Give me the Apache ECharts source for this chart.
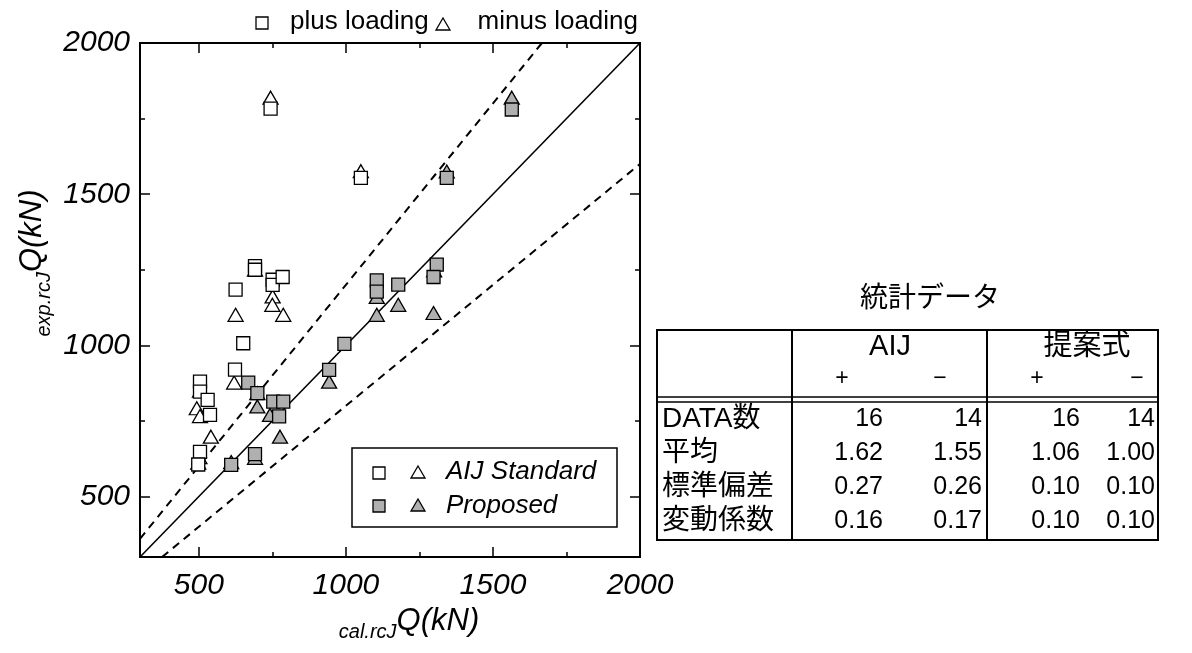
<!DOCTYPE html>
<html>
<head>
<meta charset="utf-8">
<script src="https://cdn.jsdelivr.net/npm/echarts@6/dist/echarts.min.js"></script>
<style>
  html, body { margin: 0; padding: 0; background: #fff; }
  #chart { width: 1192px; height: 653px; }
</style>
</head>
<body>
<div id="chart"></div>
<script>
// Joint shear strength: calculated (x) vs. experimental (y), kN
const aijPlusCal  = [744, 1051, 691, 691, 751, 751, 785, 625, 651, 623, 504, 504, 530, 538, 504, 498];
const aijPlusExp  = [1783, 1554, 1262, 1250, 1217, 1200, 1226, 1184, 1007, 920, 880, 847, 820, 770, 648, 606];
const aijMinusCal = [744, 1051, 751, 750, 787, 625, 620, 493, 504, 541, 502, 498, 691, 504];
const aijMinusExp = [1819, 1576, 1162, 1134, 1101, 1101, 877, 792, 766, 698, 630, 612, 1250, 850];
const propPlusCal  = [1564, 1343, 1309, 1298, 1105, 1178, 1105, 995, 943, 668, 699, 753, 787, 773, 691, 610];
const propPlusExp  = [1780, 1554, 1267, 1226, 1215, 1201, 1178, 1005, 919, 877, 842, 814, 814, 765, 640, 605];
const propMinusCal = [1564, 1343, 1105, 1178, 1105, 1298, 943, 699, 742, 776, 691, 610, 1300, 699];
const propMinusExp = [1819, 1575, 1160, 1134, 1101, 1107, 880, 798, 770, 698, 628, 614, 1248, 842];

// Reference lines y = r * x
const refRatios = [1.0, 1.2, 0.8];
const axisMin = 300, axisMax = 2000;
const majorTicks = [500, 1000, 1500];
const minorTicks = [750, 1250, 1750];
const tickLabels = [500, 1000, 1500, 2000];

// Statistics table
const statTitle = '統計データ';
const statGroups = ['AIJ', '提案式'];
const statSigns = ['+', '−', '+', '−'];
const statRows = ['DATA数', '平均', '標準偏差', '変動係数'];
const statAijPlus   = ['16', '1.62', '0.27', '0.16'];
const statAijMinus  = ['14', '1.55', '0.26', '0.17'];
const statPropPlus  = ['16', '1.06', '0.10', '0.10'];
const statPropMinus = ['14', '1.00', '0.10', '0.10'];

const pairs = (xs, ys) => xs.map((x, i) => [x, ys[i]]);
const refLine = r => {
  const x0 = Math.max(axisMin, axisMin / r);
  const x1 = Math.min(axisMax, axisMax / r);
  return [[x0, r * x0], [x1, r * x1]];
};

const FONT = 'Liberation Sans, Arial, sans-serif';
const CJK = 'Liberation Sans, Noto Sans CJK JP, sans-serif';
const GRAY = '#b0b0b0';

const tickLabelStyle = margin => ({
  customValues: tickLabels, fontSize: 30, fontStyle: 'italic', fontFamily: FONT,
  color: '#000', margin, formatter: v => String(v)
});

function tickAxis(pos, values, len, extra) {
  return Object.assign({
    type: 'value', min: axisMin, max: axisMax, position: pos,
    axisLine: { show: false }, splitLine: { show: false },
    axisTick: { show: true, inside: true, length: len, customValues: values,
                lineStyle: { color: '#000', width: 1.5 } },
    axisLabel: { show: false }
  }, extra || {});
}

const nameRich = {
  s: { fontSize: 20, fontStyle: 'italic', fontFamily: FONT, color: '#000', verticalAlign: 'bottom', padding: [0, 0, -6, 0] },
  m: { fontSize: 31, fontStyle: 'italic', fontFamily: FONT, color: '#000' }
};

const xAxes = [
  tickAxis('bottom', majorTicks, 10, {
    axisLabel: tickLabelStyle(14),
    name: '{s|cal.rcJ}{m|Q(kN)}', nameLocation: 'middle', nameGap: 41,
    nameTextStyle: { padding: [0, 0, 0, 38], rich: nameRich }
  }),
  tickAxis('bottom', minorTicks, 5),
  tickAxis('top', majorTicks, 10),
  tickAxis('top', minorTicks, 5)
];
const yAxes = [
  tickAxis('left', majorTicks, 10, {
    axisLabel: tickLabelStyle(10),
    name: '{s|exp.rcJ}{m|Q(kN)}', nameLocation: 'middle', nameGap: 92,
    nameTextStyle: { padding: [0, 0, 0, 74], rich: nameRich }
  }),
  tickAxis('left', minorTicks, 5),
  tickAxis('right', majorTicks, 10),
  tickAxis('right', minorTicks, 5)
];

function scatter(name, data, symbol, fill, size, z) {
  return { name, type: 'scatter', data, symbol, symbolSize: size, z,
           itemStyle: { color: fill, borderColor: '#000', borderWidth: 1.3, opacity: 1 },
           emphasis: { disabled: true } };
}

const series = [
  { type: 'line', data: refLine(refRatios[0]), symbol: 'none', z: 1,
    lineStyle: { color: '#000', width: 1.6 } },
  { type: 'line', data: refLine(refRatios[1]), symbol: 'none', z: 1,
    lineStyle: { color: '#000', width: 2, type: [8, 6] } },
  { type: 'line', data: refLine(refRatios[2]), symbol: 'none', z: 1,
    lineStyle: { color: '#000', width: 2, type: [8, 6] } },
  scatter('AIJ minus', pairs(aijMinusCal, aijMinusExp), 'triangle', '#fff', [15, 13], 2),
  scatter('Proposed minus', pairs(propMinusCal, propMinusExp), 'triangle', GRAY, [15, 13], 2),
  scatter('AIJ plus', pairs(aijPlusCal, aijPlusExp), 'rect', '#fff', 13, 3),
  scatter('Proposed plus', pairs(propPlusCal, propPlusExp), 'rect', GRAY, 13, 3)
];

// Legends and statistics table
const G = [];
const txt = (x, y, text, size, opts) => G.push({
  type: 'text', x, y, style: Object.assign({ text, fontSize: size, fontFamily: CJK, fill: '#000',
    align: 'left', verticalAlign: 'middle' }, opts || {}) });
const sq = (cx, cy, s, fill) => G.push({ type: 'rect', shape: { x: cx - s / 2, y: cy - s / 2, width: s, height: s },
  style: { fill, stroke: '#000', lineWidth: 1.3 } });
const tri = (cx, cy, w, h, fill) => G.push({ type: 'polygon', shape: { points: [[cx, cy - h / 2], [cx + w / 2, cy + h / 2], [cx - w / 2, cy + h / 2]] },
  style: { fill, stroke: '#000', lineWidth: 1.3 } });
const line = (x1, y1, x2, y2, w) => G.push({ type: 'line', shape: { x1, y1, x2, y2 }, style: { stroke: '#000', lineWidth: w } });

// top legend
sq(262, 23, 12, '#fff');
txt(290, 22, 'plus loading', 26, { fontFamily: FONT });
tri(443, 24, 14, 12, '#fff');
txt(638, 22, 'minus loading', 26, { fontFamily: FONT, align: 'right' });

// inner legend
G.push({ type: 'rect', shape: { x: 352, y: 448, width: 265, height: 79 }, style: { fill: '#fff', stroke: '#000', lineWidth: 1.5 }, z: 10 });
const zl = G.length;
sq(379, 473, 12, '#fff');
tri(418, 472, 14, 12, '#fff');
txt(446, 472, 'AIJ Standard', 26, { fontFamily: FONT, fontStyle: 'italic' });
sq(379, 506, 12, GRAY);
tri(418, 505, 14, 12, GRAY);
txt(446, 506, 'Proposed', 26, { fontFamily: FONT, fontStyle: 'italic' });
for (let i = zl; i < G.length; i++) G[i].z = 11;

// table
const tL = 657, tR = 1158, tT = 330, tB = 540, c1 = 792, c2 = 987;
txt(930, 299, statTitle, 28, { align: 'center' });
G.push({ type: 'rect', shape: { x: tL, y: tT, width: tR - tL, height: tB - tT }, style: { fill: 'none', stroke: '#000', lineWidth: 2 } });
line(c1, tT, c1, tB, 2);
line(c2, tT, c2, tB, 2);
line(tL, 397, tR, 397, 1.6);
line(tL, 402, tR, 402, 1.6);
txt(890, 347, statGroups[0], 29, { align: 'center' });
txt(1087, 347, statGroups[1], 29, { align: 'center' });
const signX = [842, 940, 1037, 1137];
statSigns.forEach((s, i) => txt(signX[i], 379, s, 23, { align: 'center' }));
const rowY = [419, 453, 487, 521];
const colRight = [883, 982, 1080, 1155];
const cols = [statAijPlus, statAijMinus, statPropPlus, statPropMinus];
statRows.forEach((r, i) => {
  txt(662, rowY[i], r, 28);
  cols.forEach((c, j) => txt(colRight[j], rowY[i], c[i], 25, { align: 'right' }));
});

const chart = echarts.init(document.getElementById('chart'), null, { renderer: 'canvas' });
chart.setOption({
  backgroundColor: '#fff',
  animation: false,
  grid: { left: 140, right: 552, top: 43, bottom: 96, show: true, borderColor: '#000', borderWidth: 2, backgroundColor: 'transparent' },
  xAxis: xAxes,
  yAxis: yAxes,
  series,
  graphic: G
});
</script>
</body>
</html>
